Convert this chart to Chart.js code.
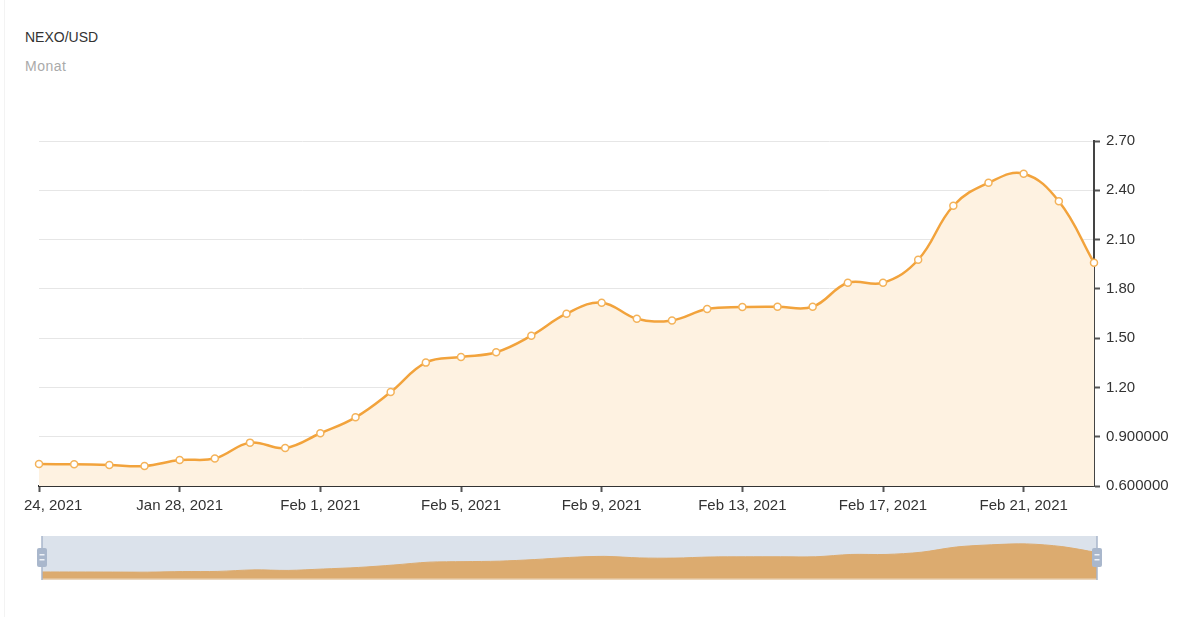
<!DOCTYPE html>
<html><head><meta charset="utf-8">
<script src="https://cdn.jsdelivr.net/npm/chart.js@4.4.0/dist/chart.umd.min.js"></script>
<style>
html,body{margin:0;padding:0;background:#fff;width:1200px;height:617px;overflow:hidden;font-family:"Liberation Sans",Arial,sans-serif;}
#title{position:absolute;left:25px;top:29px;font-size:14px;line-height:16px;color:#333;white-space:nowrap;}
#sub{position:absolute;left:25px;top:58px;font-size:14px;line-height:16px;color:#aaa;letter-spacing:0.5px;white-space:nowrap;}
#wrap{position:absolute;left:21px;top:0;width:1179px;height:530px;overflow:hidden;}
#main{position:absolute;left:-121px;top:0;width:1300px;height:530px;}
#nav{position:absolute;left:0;top:520px;width:1200px;height:80px;}
#edge{position:absolute;left:4px;top:0;width:1px;height:617px;background:#f3f3f3;}
</style></head>
<body>
<div id="edge"></div>
<div id="title">NEXO/USD</div>
<div id="sub">Monat</div>
<div id="wrap"><canvas id="main" width="1300" height="530"></canvas></div>
<canvas id="nav" width="1200" height="80"></canvas>
<script>
const categories = [
  "Jan 24, 2021","Jan 25, 2021","Jan 26, 2021","Jan 27, 2021","Jan 28, 2021","Jan 29, 2021","Jan 30, 2021","Jan 31, 2021",
  "Feb 1, 2021","Feb 2, 2021","Feb 3, 2021","Feb 4, 2021","Feb 5, 2021","Feb 6, 2021","Feb 7, 2021","Feb 8, 2021",
  "Feb 9, 2021","Feb 10, 2021","Feb 11, 2021","Feb 12, 2021","Feb 13, 2021","Feb 14, 2021","Feb 15, 2021","Feb 16, 2021",
  "Feb 17, 2021","Feb 18, 2021","Feb 19, 2021","Feb 20, 2021","Feb 21, 2021","Feb 22, 2021","Feb 23, 2021"
];
const prices = [
  0.734,0.732,0.728,0.722,0.758,0.768,0.864,0.831,
  0.921,1.018,1.172,1.351,1.385,1.414,1.515,1.649,
  1.716,1.618,1.608,1.677,1.689,1.691,1.691,1.837,
  1.837,1.977,2.306,2.446,2.501,2.333,1.959
];
const yTicks = [0.6,0.9,1.2,1.5,1.8,2.1,2.4,2.7];
const yTickLabels = ["0.600000","0.900000","1.20","1.50","1.80","2.10","2.40","2.70"];
const xTickEvery = 4;

Chart.defaults.font.family = '"Liberation Sans", Arial, sans-serif';
Chart.defaults.color = '#333';

new Chart(document.getElementById('main'), {
  type: 'line',
  data: {
    labels: categories,
    datasets: [{
      data: prices,
      borderColor: '#f2a33c',
      borderWidth: 2.5,
      backgroundColor: '#fef2e1',
      fill: 'start',
      tension: 0.4,
      pointRadius: 3.5,
      pointBorderWidth: 1.5,
      pointBorderColor: '#f4b35a',
      pointBackgroundColor: '#ffffff'
    }]
  },
  options: {
    responsive: false,
    animation: false,
    events: [],
    layout: { padding: { left: 139, top: 141, right: 0, bottom: 0 } },
    plugins: { legend: { display: false }, tooltip: { enabled: false }, title: { display: false } },
    scales: {
      x: {
        type: 'category',
        offset: false,
        afterBuildTicks: s => { s.ticks = s.ticks.filter((t, i) => i % xTickEvery === 0); },
        afterFit: s => { s.height = 44; },
        ticks: {
          autoSkip: false, maxRotation: 0, minRotation: 0, padding: 5,
          font: { size: 15 }, color: '#333',
          callback: v => categories[v]
        },
        grid: { display: true, drawOnChartArea: false, tickColor: '#555', tickLength: 6, tickWidth: 2 },
        border: { display: true, color: '#333', width: 2 }
      },
      y: {
        position: 'right',
        min: 0.6, max: 2.7,
        afterBuildTicks: s => { s.ticks = yTicks.map(v => ({ value: v })); },
        afterFit: s => { s.width = 106; },
        ticks: {
          padding: 6, font: { size: 15 }, color: '#333',
          callback: v => { const i = yTicks.findIndex(t => Math.abs(t - v) < 1e-6); return i >= 0 ? yTickLabels[i] : ''; }
        },
        grid: { color: '#e6e6e6', lineWidth: 1, tickColor: '#555', tickLength: 6, tickWidth: 2 },
        border: { display: true, color: '#444', width: 2 }
      }
    }
  }
});

const navDecor = {
  id: 'navDecor',
  beforeDatasetsDraw(chart) {
    const { ctx, chartArea: a } = chart;
    ctx.save();
    ctx.fillStyle = '#dbe2eb';
    ctx.fillRect(a.left, a.top, a.right - a.left, a.bottom - a.top);
    ctx.restore();
  },
  afterDraw(chart) {
    const { ctx, chartArea: a } = chart;
    ctx.save();
    ctx.fillStyle = '#ead5bb';
    ctx.fillRect(a.left, a.bottom - 0.5, a.right - a.left, 1.5);
    [a.left, a.right].forEach(x => {
      ctx.fillStyle = '#a9b7cc';
      ctx.fillRect(x - 0.75, a.top, 1.5, a.bottom - a.top + 1);
      const hx = x - 5, hy = 28, hw = 10, hh = 19;
      ctx.beginPath();
      ctx.roundRect(hx, hy, hw, hh, 2);
      ctx.fill();
      ctx.fillStyle = '#eef2f7';
      ctx.fillRect(hx + 2.5, hy + 6, 5, 1.5);
      ctx.fillRect(hx + 2.5, hy + 11, 5, 1.5);
    });
    ctx.restore();
  }
};

new Chart(document.getElementById('nav'), {
  type: 'line',
  data: {
    labels: categories,
    datasets: [{
      data: prices,
      borderColor: '#dcab6f',
      borderWidth: 1,
      backgroundColor: '#dcab6f',
      fill: 'start',
      tension: 0.3,
      pointRadius: 0
    }]
  },
  plugins: [navDecor],
  options: {
    responsive: false,
    animation: false,
    events: [],
    layout: { padding: { left: 42, top: 16, right: 103, bottom: 21 } },
    plugins: { legend: { display: false }, tooltip: { enabled: false } },
    scales: {
      x: { display: false, offset: false },
      y: { display: false, min: 0.29, max: 3.0 }
    }
  }
});
</script>
</body></html>
